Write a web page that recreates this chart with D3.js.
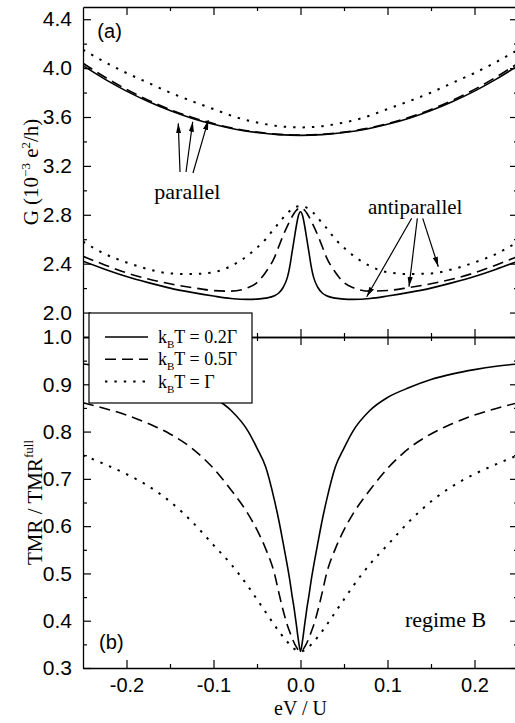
<!DOCTYPE html>
<html>
<head>
<meta charset="utf-8">
<script src="https://cdn.jsdelivr.net/npm/d3@7"></script>
<style>
  html, body { margin: 0; padding: 0; background: #fff; }
  svg { display: block; }
  .tick text { font-family: "Liberation Sans", Arial, Helvetica, sans-serif; font-size: 21px; fill: #000; }
  .xlab .tick text { font-size: 20px; }
  .tick line { stroke: #000; stroke-width: 1.2; }
  .domain { stroke: #000; stroke-width: 1.3; }
  .serif { font-family: "Liberation Serif", "Times New Roman", Times, serif; fill: #000; }
  .sans { font-family: "Liberation Sans", Arial, Helvetica, sans-serif; fill: #000; }
</style>
</head>
<body>
<svg id="chart" width="515" height="723"></svg>
<script>
// ---- bias grids (eV / U) ----
const evCoarse = [-0.25, -0.225, -0.2, -0.175, -0.15, -0.125, -0.1, -0.075, -0.05, -0.025, 0,
                  0.025, 0.05, 0.075, 0.1, 0.125, 0.15, 0.175, 0.2, 0.225, 0.25];
const evFine = [-0.25, -0.225, -0.2, -0.175, -0.15, -0.125, -0.1, -0.08, -0.06, -0.05, -0.04, -0.03,
                -0.025, -0.02, -0.015, -0.0125, -0.01, -0.0075, -0.005, -0.0025, 0,
                0.0025, 0.005, 0.0075, 0.01, 0.0125, 0.015, 0.02, 0.025, 0.03, 0.04, 0.05, 0.06,
                0.08, 0.1, 0.125, 0.15, 0.175, 0.2, 0.225, 0.25];

// ---- (a) conductance, parallel configuration (10^-3 e^2/h), on evCoarse ----
const gParallel02 = [4.02, 3.91, 3.812, 3.727, 3.653, 3.59, 3.54, 3.50, 3.473, 3.456, 3.45,
                     3.456, 3.473, 3.50, 3.54, 3.59, 3.653, 3.727, 3.812, 3.91, 4.02];
const gParallel05 = [4.04, 3.927, 3.826, 3.738, 3.662, 3.598, 3.546, 3.505, 3.476, 3.458, 3.452,
                     3.458, 3.476, 3.505, 3.546, 3.598, 3.662, 3.738, 3.826, 3.927, 4.04];
const gParallel10 = [4.15, 4.05, 3.96, 3.88, 3.80, 3.73, 3.665, 3.60, 3.555, 3.525, 3.515,
                     3.525, 3.555, 3.60, 3.665, 3.73, 3.80, 3.88, 3.96, 4.05, 4.15];

// ---- (a) conductance, antiparallel configuration, on evFine ----
const gAnti02 = [2.42, 2.355, 2.295, 2.245, 2.20, 2.165, 2.135, 2.115, 2.108, 2.11, 2.118, 2.137,
                 2.16, 2.205, 2.29, 2.37, 2.48, 2.59, 2.70, 2.79, 2.825,
                 2.79, 2.70, 2.59, 2.48, 2.37, 2.29, 2.205, 2.16, 2.137, 2.118, 2.11, 2.108,
                 2.115, 2.135, 2.165, 2.20, 2.245, 2.295, 2.355, 2.42];
const gAnti05 = [2.46, 2.39, 2.325, 2.275, 2.235, 2.205, 2.18, 2.175, 2.205, 2.245, 2.33, 2.45,
                 2.54, 2.63, 2.71, 2.745, 2.78, 2.81, 2.835, 2.85, 2.855,
                 2.85, 2.835, 2.81, 2.78, 2.745, 2.71, 2.63, 2.54, 2.45, 2.33, 2.245, 2.205,
                 2.175, 2.18, 2.205, 2.235, 2.275, 2.325, 2.39, 2.46];
const gAnti10 = [2.58, 2.48, 2.41, 2.355, 2.32, 2.315, 2.33, 2.38, 2.47, 2.53, 2.60, 2.69,
                 2.73, 2.775, 2.815, 2.83, 2.845, 2.857, 2.865, 2.87, 2.872,
                 2.87, 2.865, 2.857, 2.845, 2.83, 2.815, 2.775, 2.73, 2.69, 2.60, 2.53, 2.47,
                 2.38, 2.33, 2.315, 2.32, 2.355, 2.41, 2.48, 2.58];

// ---- (b) normalised TMR, on evFine ----
const tmr02 = [0.943, 0.938, 0.931, 0.922, 0.91, 0.893, 0.872, 0.845, 0.80, 0.765, 0.725, 0.655,
               0.613, 0.565, 0.515, 0.488, 0.457, 0.428, 0.395, 0.36, 0.335,
               0.36, 0.395, 0.428, 0.457, 0.488, 0.515, 0.565, 0.613, 0.655, 0.725, 0.765, 0.80,
               0.845, 0.872, 0.893, 0.91, 0.922, 0.931, 0.938, 0.943];
const tmr05 = [0.861, 0.849, 0.835, 0.817, 0.795, 0.765, 0.722, 0.677, 0.625, 0.592, 0.552, 0.50,
               0.46, 0.422, 0.39, 0.377, 0.365, 0.354, 0.345, 0.338, 0.335,
               0.338, 0.345, 0.354, 0.365, 0.377, 0.39, 0.422, 0.46, 0.50, 0.552, 0.592, 0.625,
               0.677, 0.722, 0.765, 0.795, 0.817, 0.835, 0.849, 0.861];
const tmr10 = [0.75, 0.731, 0.71, 0.685, 0.652, 0.61, 0.56, 0.52, 0.472, 0.445, 0.418, 0.391,
               0.378, 0.366, 0.355, 0.35, 0.345, 0.341, 0.338, 0.336, 0.335,
               0.336, 0.338, 0.341, 0.345, 0.35, 0.355, 0.366, 0.378, 0.391, 0.418, 0.445, 0.472,
               0.52, 0.56, 0.61, 0.652, 0.685, 0.71, 0.731, 0.75];

// ---- ticks ----
const xMajor = [-0.2, -0.1, 0, 0.1, 0.2];
const xMinor = [-0.15, -0.05, 0.05, 0.15];
const gMajor = [2.0, 2.4, 2.8, 3.2, 3.6, 4.0, 4.4];
const gMinor = [2.2, 2.6, 3.0, 3.4, 3.8, 4.2];
const tMajor = [0.3, 0.4, 0.5, 0.6, 0.7, 0.8, 0.9, 1.0];
const tMinor = [0.35, 0.45, 0.55, 0.65, 0.75, 0.85, 0.95];

// ---- legend entries ----
const legendValues = ["0.2\u0393", "0.5\u0393", "\u0393"];

// ---- layout ----
const svg = d3.select("#chart");
const left = 83, right = 518;
const topA = 7, midY = 337, botB = 668;

const x = d3.scaleLinear().domain([-0.25, 0.25]).range([left, right]);
const yG = d3.scaleLinear().domain([1.8, 4.5]).range([midY, topA]);
const yT = d3.scaleLinear().domain([0.3, 1.0]).range([botB, midY]);

const fmt = d => d.toFixed(1);
const majorLen = 8, minorLen = 4;

// clip regions for the two panels
const defs = svg.append("defs");
defs.append("clipPath").attr("id", "clipA")
  .append("rect").attr("x", left).attr("y", topA).attr("width", right - left).attr("height", midY - topA);
defs.append("clipPath").attr("id", "clipB")
  .append("rect").attr("x", left).attr("y", midY).attr("width", right - left).attr("height", botB - midY);
defs.append("marker").attr("id", "head")
  .attr("markerUnits", "userSpaceOnUse")
  .attr("viewBox", "0 -3 10 6").attr("refX", 10).attr("refY", 0)
  .attr("markerWidth", 10).attr("markerHeight", 6).attr("orient", "auto")
  .append("path").attr("d", "M0,-2.6L10,0L0,2.6Z").attr("fill", "#000");

// series styles
const styles = {
  solid:  { dash: null,     width: 1.6 },
  dashed: { dash: "11,6",   width: 1.6 },
  dotted: { dash: "2.4,7",  width: 2.0 }
};

function drawSeries(g, xs, ys, yScale, style) {
  const line = d3.line()
    .x(d => x(d[0]))
    .y(d => yScale(d[1]))
    .curve(d3.curveMonotoneX);
  g.append("path")
    .datum(d3.zip(xs, ys))
    .attr("d", line)
    .attr("fill", "none")
    .attr("stroke", "#000")
    .attr("stroke-width", styles[style].width)
    .attr("stroke-dasharray", styles[style].dash);
}

// ---- panel (a) curves ----
const gA = svg.append("g").attr("clip-path", "url(#clipA)");
drawSeries(gA, evCoarse, gParallel10, yG, "dotted");
drawSeries(gA, evCoarse, gParallel05, yG, "dashed");
drawSeries(gA, evCoarse, gParallel02, yG, "solid");
drawSeries(gA, evFine, gAnti10, yG, "dotted");
drawSeries(gA, evFine, gAnti05, yG, "dashed");
drawSeries(gA, evFine, gAnti02, yG, "solid");

// ---- panel (b) curves ----
const gB = svg.append("g").attr("clip-path", "url(#clipB)");
drawSeries(gB, evFine, tmr10, yT, "dotted");
drawSeries(gB, evFine, tmr05, yT, "dashed");
drawSeries(gB, evFine, tmr02, yT, "solid");

// ---- axes: inward ticks on every side ----
function addAxis(axis, tx, ty, keepDomain) {
  const g = svg.append("g").attr("transform", `translate(${tx},${ty})`).call(axis);
  if (!keepDomain) g.select(".domain").remove();
  return g;
}
function frame(yScale, yMaj, yMin, yTop, yBot, xLabels) {
  // left
  addAxis(d3.axisLeft(yScale).tickValues(yMaj).tickSize(-majorLen).tickSizeOuter(0)
    .tickPadding(11).tickFormat(fmt), left, 0, true);
  addAxis(d3.axisLeft(yScale).tickValues(yMin).tickSize(-minorLen).tickFormat(""), left, 0, false);
  // right
  addAxis(d3.axisRight(yScale).tickValues(yMaj).tickSize(-majorLen).tickSizeOuter(0).tickFormat(""), right, 0, true);
  addAxis(d3.axisRight(yScale).tickValues(yMin).tickSize(-minorLen).tickFormat(""), right, 0, false);
  // top
  addAxis(d3.axisTop(x).tickValues(xMajor).tickSize(-majorLen).tickSizeOuter(0).tickFormat(""), 0, yTop, true);
  addAxis(d3.axisTop(x).tickValues(xMinor).tickSize(-minorLen).tickFormat(""), 0, yTop, false);
  // bottom
  addAxis(d3.axisBottom(x).tickValues(xMajor).tickSize(-majorLen).tickSizeOuter(0)
    .tickPadding(10).tickFormat(xLabels ? fmt : ""), 0, yBot, true).classed("xlab", xLabels);
  addAxis(d3.axisBottom(x).tickValues(xMinor).tickSize(-minorLen).tickFormat(""), 0, yBot, false);
}
frame(yG, gMajor, gMinor, topA, midY, false);
frame(yT, tMajor, tMinor, midY, botB, true);

// ---- axis titles ----
const gTitle = svg.append("text").attr("class", "serif")
  .attr("transform", `translate(38,${(topA + midY) / 2}) rotate(-90)`)
  .attr("text-anchor", "middle").style("font-size", "21px");
gTitle.append("tspan").text("G (10");
gTitle.append("tspan").attr("dy", -8).style("font-size", "13px").text("\u22123");
gTitle.append("tspan").attr("dy", 8).text(" e");
gTitle.append("tspan").attr("dy", -8).style("font-size", "13px").text("2");
gTitle.append("tspan").attr("dy", 8).text("/h)");

const tTitle = svg.append("text").attr("class", "serif")
  .attr("transform", `translate(42,${(midY + botB) / 2}) rotate(-90)`)
  .attr("text-anchor", "middle").style("font-size", "21px");
tTitle.append("tspan").text("TMR / TMR");
tTitle.append("tspan").attr("dy", -9).style("font-size", "13px").text("full");

svg.append("text").attr("class", "serif")
  .attr("x", x(0)).attr("y", 715).attr("text-anchor", "middle")
  .style("font-size", "20px").text("eV / U");

// ---- panel tags and annotations (placed in data units) ----
svg.append("text").attr("class", "sans").style("font-size", "20px")
  .attr("x", x(-0.2335)).attr("y", yG(4.25)).text("(a)");
svg.append("text").attr("class", "sans").style("font-size", "20px")
  .attr("x", x(-0.2315)).attr("y", yT(0.34)).text("(b)");

svg.append("text").attr("class", "serif").style("font-size", "22px")
  .attr("x", x(-0.168)).attr("y", yG(2.93)).text("parallel");
svg.append("text").attr("class", "serif").style("font-size", "21px")
  .attr("x", x(0.0775)).attr("y", yG(2.806)).text("antiparallel");
svg.append("text").attr("class", "serif").style("font-size", "22px")
  .attr("x", x(0.12)).attr("y", yT(0.387)).text("regime B");

const arrows = [
  { from: [-0.1385, 3.150], to: [-0.1405, 3.548] },
  { from: [-0.1316, 3.150], to: [-0.1239, 3.561] },
  { from: [-0.1236, 3.142], to: [-0.1060, 3.575] },
  { from: [0.1278, 2.771], to: [0.0761, 2.129] },
  { from: [0.1343, 2.771], to: [0.1247, 2.211] },
  { from: [0.1405, 2.771], to: [0.1584, 2.375] }
];
svg.append("g").selectAll("line").data(arrows).join("line")
  .attr("x1", d => x(d.from[0])).attr("y1", d => yG(d.from[1]))
  .attr("x2", d => x(d.to[0])).attr("y2", d => yG(d.to[1]))
  .attr("stroke", "#000").attr("stroke-width", 1.2)
  .attr("marker-end", "url(#head)");

// ---- legend ----
const leg = svg.append("g");
leg.append("rect").attr("x", 89).attr("y", 313).attr("width", 163).attr("height", 90)
  .attr("fill", "#fff").attr("stroke", "#000").attr("stroke-width", 1.2);
const legStyles = ["solid", "dashed", "dotted"];
legendValues.forEach((v, i) => {
  const cy = 337 + i * 22.3;
  leg.append("line").attr("x1", 105).attr("x2", 148).attr("y1", cy).attr("y2", cy)
    .attr("stroke", "#000").attr("stroke-width", styles[legStyles[i]].width)
    .attr("stroke-dasharray", styles[legStyles[i]].dash);
  const t = leg.append("text").attr("class", "serif").style("font-size", "18px")
    .attr("x", 158).attr("y", cy + 6);
  t.append("tspan").text("k");
  t.append("tspan").attr("dy", 5).style("font-size", "11px").text("B");
  t.append("tspan").attr("dy", -5).text("T = " + v);
});
</script>
</body>
</html>
